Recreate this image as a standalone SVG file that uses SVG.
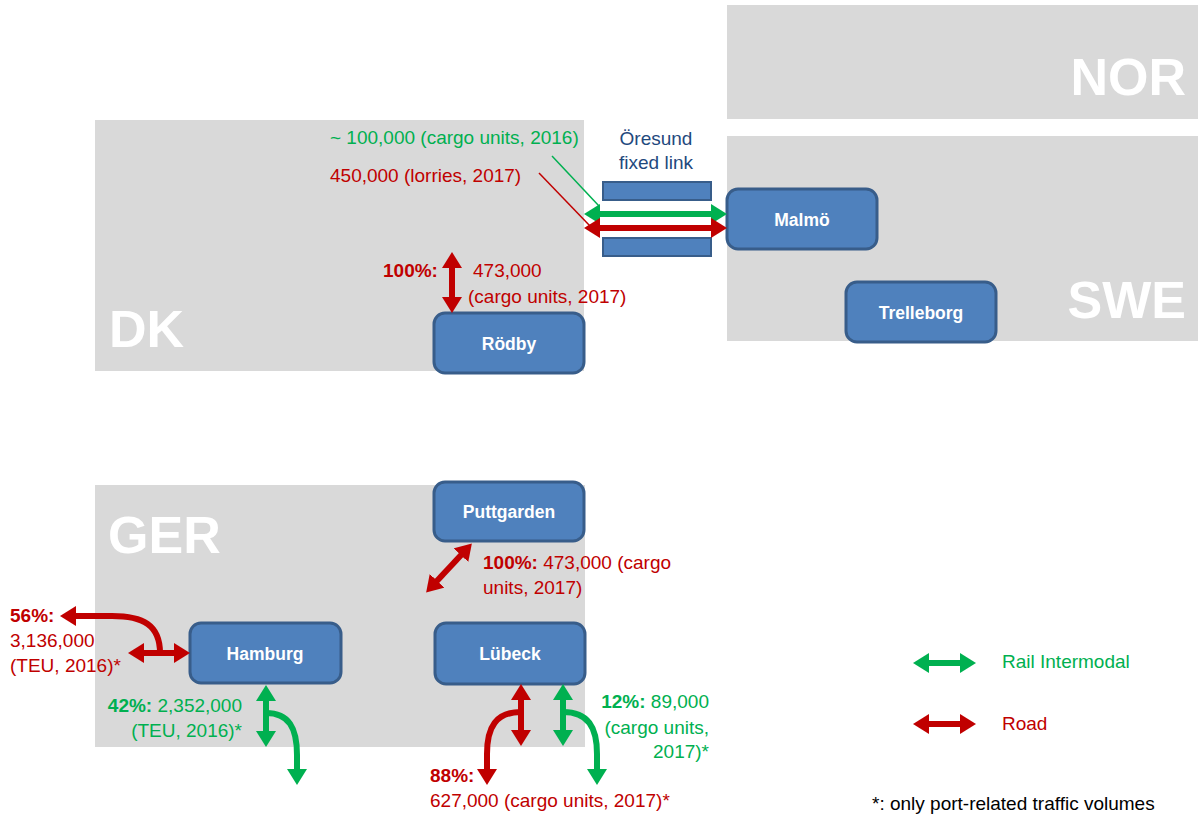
<svg xmlns="http://www.w3.org/2000/svg" width="1198" height="818" viewBox="0 0 1198 818">
<style>
.region{fill:#D9D9D9}
.big{font-family:"Liberation Sans",Arial,sans-serif;font-weight:bold;font-size:52px;fill:#FFFFFF}
.node rect{fill:#4F81BD;stroke:#385D8A;stroke-width:3}
.node text{font-family:"Liberation Sans",Arial,sans-serif;font-weight:bold;font-size:17.5px;fill:#FFFFFF;text-anchor:middle}
.t{font-family:"Liberation Sans",Arial,sans-serif;font-size:19px}
.r{fill:#C00000}
.g{fill:#00B050}
.b{font-weight:bold}
.blue{fill:#1F497D}
.road{fill:none;stroke:#C00000;stroke-width:6}
.rail{fill:none;stroke:#00B050;stroke-width:6}
.bridge{fill:#4F81BD;stroke:#385D8A;stroke-width:2}
</style>
<defs>
<marker id="hr" viewBox="0 0 16 20" markerWidth="16" markerHeight="20" refX="3" refY="10" orient="auto-start-reverse" markerUnits="userSpaceOnUse"><path d="M0,0 L16,10 L0,20 z" fill="#C00000"/></marker>
<marker id="hg" viewBox="0 0 16 20" markerWidth="16" markerHeight="20" refX="3" refY="10" orient="auto-start-reverse" markerUnits="userSpaceOnUse"><path d="M0,0 L16,10 L0,20 z" fill="#00B050"/></marker>
</defs>
<rect width="1198" height="818" fill="#FFFFFF"/>
<g id="regions">
<rect class="region" x="727" y="5" width="471" height="114"/>
<rect class="region" x="727" y="136" width="471" height="205"/>
<rect class="region" x="95" y="120" width="489" height="251"/>
<rect class="region" x="95" y="485" width="490" height="262"/>
<text class="big" x="1186" y="95" text-anchor="end">NOR</text>
<text class="big" x="1186" y="318" text-anchor="end">SWE</text>
<text class="big" x="109" y="347">DK</text>
<text class="big" x="108" y="553">GER</text>
</g>
<g id="oresund">
<rect class="bridge" x="603" y="182" width="108" height="18"/>
<rect class="bridge" x="603" y="238" width="108" height="18"/>
<rect x="596" y="203" width="122" height="32" fill="#FFFFFF"/>
<text class="t blue" x="656" y="145" text-anchor="middle">Öresund</text>
<text class="t blue" x="656" y="169" text-anchor="middle">fixed link</text>
</g>
<g id="node-malmo" class="node"><rect x="727" y="189" width="150" height="60" rx="11"/><text x="802" y="226">Malmö</text></g>
<g id="node-trelleborg" class="node"><rect x="846" y="282" width="150" height="60" rx="11"/><text x="921" y="319">Trelleborg</text></g>
<g id="node-rodby" class="node"><rect x="434" y="313" width="150" height="60" rx="11"/><text x="509" y="350">Rödby</text></g>
<g id="node-puttgarden" class="node"><rect x="434" y="482" width="150" height="59" rx="11"/><text x="509" y="518">Puttgarden</text></g>
<g id="node-hamburg" class="node"><rect x="190" y="623" width="151" height="60" rx="11"/><text x="265" y="660">Hamburg</text></g>
<g id="node-lubeck" class="node"><rect x="435" y="623" width="150" height="61" rx="11"/><text x="510" y="660">Lübeck</text></g>
<g id="connectors">
<path class="rail" d="M597,214 L714,214" marker-start="url(#hg)" marker-end="url(#hg)"/>
<path class="road" d="M597,228 L714,228" marker-start="url(#hr)" marker-end="url(#hr)"/>
<line x1="552" y1="156" x2="599" y2="206" stroke="#00B050" stroke-width="1.5"/>
<line x1="539" y1="173" x2="590" y2="226" stroke="#C00000" stroke-width="1.5"/>
<path class="road" d="M452,265 L452,300" marker-start="url(#hr)" marker-end="url(#hr)"/>
<path class="road" d="M463,553 L435,583" marker-start="url(#hr)" marker-end="url(#hr)"/>
<path class="road" d="M141,653 L177,653" marker-start="url(#hr)" marker-end="url(#hr)"/>
<path class="road" d="M160,653 C160,625 143,616 112,616 L73,616" marker-end="url(#hr)"/>
<path class="rail" d="M266,698 L266,734" marker-start="url(#hg)" marker-end="url(#hg)"/>
<path class="rail" d="M266,713 C289,713 297,728 297,755 L297,772" marker-end="url(#hg)"/>
<path class="road" d="M521,697 L521,733" marker-start="url(#hr)" marker-end="url(#hr)"/>
<path class="road" d="M521,712 C496,712 487,727 487,754 L487,772" marker-end="url(#hr)"/>
<path class="rail" d="M563,697 L563,733" marker-start="url(#hg)" marker-end="url(#hg)"/>
<path class="rail" d="M563,712 C588,712 597,727 597,754 L597,772" marker-end="url(#hg)"/>
<path class="rail" d="M926,663 L963,663" marker-start="url(#hg)" marker-end="url(#hg)"/>
<path class="road" d="M926,724 L963,724" marker-start="url(#hr)" marker-end="url(#hr)"/>
</g>
<g id="labels">
<text class="t g" x="330" y="144">~ 100,000 (cargo units, 2016)</text>
<text class="t r" x="330" y="182">450,000 (lorries, 2017)</text>
<text class="t r" x="383" y="277"><tspan class="b">100%:</tspan></text>
<text class="t r" x="473" y="277">473,000</text>
<text class="t r" x="468" y="303">(cargo units, 2017)</text>
<text class="t r" x="483" y="569"><tspan class="b">100%:</tspan> 473,000 (cargo</text>
<text class="t r" x="483" y="594">units, 2017)</text>
<text class="t r" x="10" y="622"><tspan class="b">56%:</tspan></text>
<text class="t r" x="10" y="647">3,136,000</text>
<text class="t r" x="10" y="672">(TEU, 2016)*</text>
<text class="t g" x="242" y="712" text-anchor="end"><tspan class="b">42%:</tspan> 2,352,000</text>
<text class="t g" x="242" y="737" text-anchor="end">(TEU, 2016)*</text>
<text class="t g" x="709" y="708" text-anchor="end"><tspan class="b">12%:</tspan> 89,000</text>
<text class="t g" x="709" y="734" text-anchor="end">(cargo units,</text>
<text class="t g" x="709" y="758" text-anchor="end">2017)*</text>
<text class="t r" x="430" y="782"><tspan class="b">88%:</tspan></text>
<text class="t r" x="430" y="807">627,000 (cargo units, 2017)*</text>
<text class="t g" x="1002" y="668">Rail Intermodal</text>
<text class="t r" x="1002" y="730">Road</text>
<text class="t" x="872" y="810" fill="#000000">*: only port-related traffic volumes</text>
</g>
</svg>
